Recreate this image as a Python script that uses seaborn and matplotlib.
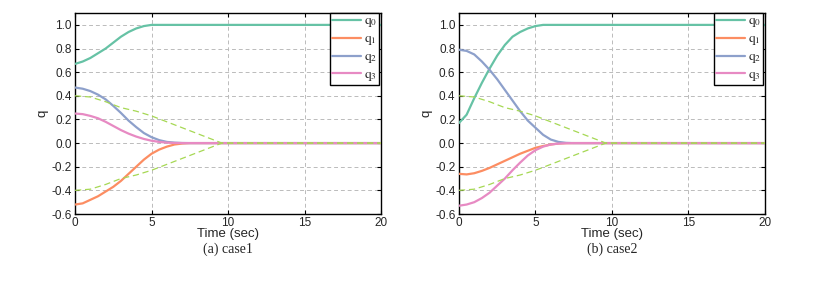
import numpy as np
import pandas as pd
import matplotlib
matplotlib.use("Agg")
import matplotlib.pyplot as plt
import seaborn as sns

# ---------------- data ----------------
t = [0, 0.5, 1, 1.5, 2, 2.5, 3, 3.5, 4, 4.5, 5, 5.5, 6, 6.5, 7, 7.5, 8, 20]

# case 1
c1_q0 = [0.67, 0.69, 0.72, 0.76, 0.80, 0.85, 0.90, 0.94, 0.97, 0.99, 1.00, 1.00, 1.00, 1.00, 1.00, 1.00, 1.00, 1.00]
c1_q1 = [-0.52, -0.51, -0.48, -0.45, -0.41, -0.37, -0.32, -0.26, -0.20, -0.14, -0.09, -0.055, -0.03, -0.012, -0.004, 0.0, 0.0, 0.0]
c1_q2 = [0.47, 0.46, 0.44, 0.41, 0.37, 0.315, 0.255, 0.19, 0.135, 0.085, 0.05, 0.025, 0.01, 0.004, 0.001, 0.0, 0.0, 0.0]
c1_q3 = [0.25, 0.245, 0.23, 0.21, 0.18, 0.145, 0.11, 0.08, 0.055, 0.035, 0.02, 0.01, 0.004, 0.001, 0.0, 0.0, 0.0, 0.0]

# case 2
c2_q0 = [0.17, 0.24, 0.38, 0.51, 0.63, 0.74, 0.83, 0.90, 0.94, 0.97, 0.99, 1.00, 1.00, 1.00, 1.00, 1.00, 1.00, 1.00]
c2_q1 = [-0.26, -0.265, -0.255, -0.235, -0.21, -0.18, -0.15, -0.12, -0.09, -0.065, -0.04, -0.025, -0.012, -0.004, -0.001, 0.0, 0.0, 0.0]
c2_q2 = [0.79, 0.78, 0.75, 0.69, 0.62, 0.54, 0.45, 0.36, 0.27, 0.19, 0.13, 0.07, 0.03, 0.01, 0.002, 0.0, 0.0, 0.0]
c2_q3 = [-0.53, -0.52, -0.50, -0.465, -0.42, -0.36, -0.30, -0.23, -0.165, -0.105, -0.06, -0.03, -0.012, -0.004, -0.001, 0.0, 0.0, 0.0]

# bound (dashed)
tb = [0, 1, 2, 3, 4, 5, 6, 7, 8, 9, 9.6, 20]
bound = [0.40, 0.39, 0.35, 0.30, 0.27, 0.23, 0.18, 0.13, 0.08, 0.03, 0.0, 0.0]

series = ["q0", "q1", "q2", "q3"]
labels = [r"$\mathrm{q}_0$", r"$\mathrm{q}_1$", r"$\mathrm{q}_2$", r"$\mathrm{q}_3$"]
captions = ["(a) case1", "(b) case2"]
xticks = [0, 5, 10, 15, 20]
yticks = [-0.6, -0.4, -0.2, 0.0, 0.2, 0.4, 0.6, 0.8, 1.0]

cases = [[c1_q0, c1_q1, c1_q2, c1_q3], [c2_q0, c2_q1, c2_q2, c2_q3]]

# ---------------- style ----------------
sns.set_theme(style="ticks")
plt.rcParams["font.family"] = ["Liberation Sans", "DejaVu Sans"]
plt.rcParams["mathtext.fontset"] = "stix"
pal = sns.color_palette("Set2", 5)
colors = pal[:4]
bound_color = pal[4]

fig = plt.figure(figsize=(8.31, 2.83), dpi=100)
lefts = [0.0903, 0.5523]
w, h, b = 0.3682, 0.710, 0.2438

for i, vals in enumerate(cases):
    ax = fig.add_axes([lefts[i], b, w, h])
    df = pd.DataFrame({"t": np.tile(t, 4),
                       "q": np.concatenate(vals),
                       "s": np.repeat(series, len(t))})
    sns.lineplot(data=df, x="t", y="q", hue="s", palette=colors, ax=ax,
                 linewidth=1.6, legend=False, zorder=3)
    dfb = pd.DataFrame({"t": tb + tb, "q": bound + [-v for v in bound],
                        "side": ["u"] * len(tb) + ["l"] * len(tb)})
    sns.lineplot(data=dfb, x="t", y="q", units="side", estimator=None,
                 color=bound_color, ax=ax, linewidth=0.9, linestyle=(0, (5, 3)),
                 zorder=4)
    ax.set_xlim(0, 20)
    ax.set_ylim(-0.6, 1.1)
    ax.set_xticks(xticks)
    ax.set_yticks(yticks)
    ax.set_yticklabels([f"{v:.1f}" for v in yticks])
    ax.grid(True, color="#bbbbbb", linestyle=(0, (4, 3)), linewidth=0.7)
    ax.tick_params(direction="in", top=True, right=True, length=3,
                   labelsize=8.5, width=0.8, pad=2.5, color="black")
    for sp in ax.spines.values():
        sp.set_color("black")
        sp.set_linewidth(1.0)
    ax.set_xlabel("Time (sec)", fontsize=9.5, labelpad=-1)
    ax.set_ylabel("q", fontsize=9.5, labelpad=2)
    handles = [plt.Line2D([], [], color=c, lw=1.6) for c in colors]
    leg = ax.legend(handles, labels, loc="upper right", bbox_to_anchor=(0.994, 1.0),
                    frameon=True, fancybox=False, framealpha=1, edgecolor="black",
                    fontsize=9.5, handlelength=2.2, handletextpad=0.2,
                    borderpad=0.15, labelspacing=0.28, borderaxespad=0)
    leg.get_frame().set_linewidth(1.0)
    ax.text(0.5, -0.14, captions[i], transform=ax.transAxes, ha="center",
            va="top", fontsize=10, family=["Liberation Serif", "DejaVu Serif"])

fig.savefig("out.png", dpi=100)
